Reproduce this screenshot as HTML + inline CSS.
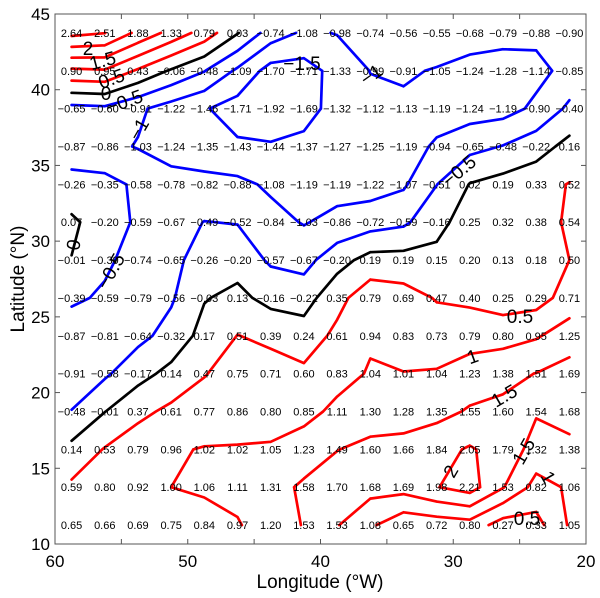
<!DOCTYPE html>
<html><head><meta charset="utf-8"><style>
body{margin:0;background:#fff;}
svg{display:block;font-family:"Liberation Sans",Arial,sans-serif;}
</style></head><body>
<svg id="chart" width="600" height="598"></svg>
<script>
const lats = [43.75,41.25,38.75,36.25,33.75,31.25,28.75,26.25,23.75,21.25,18.75,16.25,13.75,11.25];
const lons = [58.75,56.25,53.75,51.25,48.75,46.25,43.75,41.25,38.75,36.25,33.75,31.25,28.75,26.25,23.75,21.25];
const row0 = [2.64,2.51,1.88,1.33,0.79,0.03,-0.74,-1.08,-0.98,-0.74,-0.56,-0.55,-0.68,-0.79,-0.88,-0.90];
const row1 = [0.90,0.95,0.43,-0.06,-0.48,-1.09,-1.70,-1.71,-1.33,-0.99,-0.91,-1.05,-1.24,-1.28,-1.14,-0.85];
const row2 = [-0.65,-0.60,-0.91,-1.22,-1.46,-1.71,-1.92,-1.69,-1.32,-1.12,-1.13,-1.19,-1.24,-1.19,-0.90,-0.40];
const row3 = [-0.87,-0.86,-1.03,-1.24,-1.35,-1.43,-1.44,-1.37,-1.27,-1.25,-1.19,-0.94,-0.65,-0.48,-0.22,0.16];
const row4 = [-0.26,-0.35,-0.58,-0.78,-0.82,-0.88,-1.08,-1.19,-1.19,-1.22,-1.07,-0.51,0.02,0.19,0.33,0.52];
const row5 = [0.07,-0.20,-0.59,-0.67,-0.49,-0.52,-0.84,-1.03,-0.86,-0.72,-0.59,-0.16,0.25,0.32,0.38,0.54];
const row6 = [-0.01,-0.39,-0.74,-0.65,-0.26,-0.20,-0.57,-0.67,-0.20,0.19,0.19,0.15,0.20,0.13,0.18,0.50];
const row7 = [-0.39,-0.59,-0.79,-0.56,-0.03,0.13,-0.16,-0.22,0.35,0.79,0.69,0.47,0.40,0.25,0.29,0.71];
const row8 = [-0.87,-0.81,-0.64,-0.32,0.17,0.51,0.39,0.24,0.61,0.94,0.83,0.73,0.79,0.80,0.95,1.25];
const row9 = [-0.91,-0.58,-0.17,0.14,0.47,0.75,0.71,0.60,0.83,1.04,1.01,1.04,1.23,1.38,1.51,1.69];
const row10 = [-0.48,-0.01,0.37,0.61,0.77,0.86,0.80,0.85,1.11,1.30,1.28,1.35,1.55,1.60,1.54,1.68];
const row11 = [0.14,0.53,0.79,0.96,1.02,1.02,1.05,1.23,1.49,1.60,1.66,1.84,2.05,1.79,1.32,1.38];
const row12 = [0.59,0.80,0.92,1.00,1.06,1.11,1.31,1.58,1.70,1.68,1.69,1.98,2.21,1.53,0.82,1.06];
const row13 = [0.65,0.66,0.69,0.75,0.84,0.97,1.20,1.53,1.53,1.08,0.65,0.72,0.80,0.27,0.33,1.05];
const levels = [-1.5,-1,-0.5,0,0.5,1,1.5,2,2.5];
const xTicks = [60,55,50,45,40,35,30,25,20];
const xTickLabels = ["60","","50","","40","","30","","20"];
const yTicks = [10,15,20,25,30,35,40,45];
const yTickLabels = ["10","15","20","25","30","35","40","45"];

const grid = [row0,row1,row2,row3,row4,row5,row6,row7,row8,row9,row10,row11,row12,row13];
const NS="http://www.w3.org/2000/svg";
const svg=document.getElementById('chart');
const L=55,R=586,T=14,B=544;
const xS=lon=>L+(60-lon)*(R-L)/40;
const yS=lat=>T+(45-lat)*(B-T)/35;
function mk(tag,attrs,parent){const e=document.createElementNS(NS,tag);for(const k in attrs)e.setAttribute(k,attrs[k]);(parent||svg).appendChild(e);return e;}

const cg=mk('g',{});


levels.forEach(lv=>{
  const col=lv<0?'#0000ff':(lv===0?'#000000':'#ff0000');
  let d='';
  for(let i=0;i<grid.length-1;i++)for(let j=0;j<lons.length-1;j++){
    const a=grid[i][j],b=grid[i][j+1],c=grid[i+1][j+1],dd=grid[i+1][j];
    const P=(v1,v2,x1,y1,x2,y2)=>{const t=(lv-v1)/(v2-v1);return [xS(x1+(x2-x1)*t),yS(y1+(y2-y1)*t)];};
    const up=v=>v>=lv;
    const e={};
    if(up(a)!==up(b))e.t=P(a,b,lons[j],lats[i],lons[j+1],lats[i]);
    if(up(b)!==up(c))e.r=P(b,c,lons[j+1],lats[i],lons[j+1],lats[i+1]);
    if(up(dd)!==up(c))e.b=P(dd,c,lons[j],lats[i+1],lons[j+1],lats[i+1]);
    if(up(a)!==up(dd))e.l=P(a,dd,lons[j],lats[i],lons[j],lats[i+1]);
    const ks=Object.keys(e);
    const seg=(p,q)=>{d+=`M${p[0].toFixed(1)},${p[1].toFixed(1)}L${q[0].toFixed(1)},${q[1].toFixed(1)}`;};
    if(ks.length===2)seg(e[ks[0]],e[ks[1]]);
    else if(ks.length===4){
      const cen=(a+b+c+dd)/4;
      if(up(cen)===up(a)){seg(e.t,e.r);seg(e.b,e.l);}else{seg(e.t,e.l);seg(e.r,e.b);}
    }
  }
  const p=mk('path',{d:d,stroke:col,'stroke-width':2.7,fill:'none','stroke-linecap':'round','stroke-linejoin':'round'},cg);
  
  
});

const clabels=[["2",88,50,0],["1.5",103,62,-15],["0.5",112,80,-20],["0",106,95,0],["−0.5",125,103,-20],["−1",140,130,-60],["−1.5",302,65,0],["−1",372,76,-35],["−0.5",460,172,-40],["0",75,245,-80],["−0.5",112,272,-60],["0.5",520,318,0],["1",473,358,-20],["1.5",505,397,-30],["2",452,472,-60],["1.5",525,452,-60],["1",547,478,60],["0.5",527,520,0]];
const lg=mk('g',{});


clabels.forEach(c=>{
  const t=mk('text',{x:c[1],y:c[2],'font-size':19,'text-anchor':'middle','dominant-baseline':'middle',transform:`rotate(${c[3]} ${c[1]} ${c[2]})`},lg);
  t.textContent=c[0];
  
  
});

const vg=mk('g',{});


grid.forEach((row,i)=>row.forEach((v,j)=>{
  const t=mk('text',{x:xS(lons[j]),y:yS(lats[i])+4,'font-size':11,'text-anchor':'middle',fill:'#000'},vg);
  t.textContent=(v<0?'\u2212':'')+Math.abs(v).toFixed(2);
  
  
}));

const fr=mk('rect',{x:L,y:T,width:R-L,height:B-T,fill:'none',stroke:'#555','stroke-width':1});


xTicks.forEach((v,k)=>{
  const x=xS(v);
  const t1=mk('line',{x1:x,y1:B,x2:x,y2:B-5,stroke:'#555'});
  
  
  const t2=mk('line',{x1:x,y1:T,x2:x,y2:T+5,stroke:'#555'});
  
  
  if(xTickLabels[k]){
    const tl=mk('text',{x:x,y:B+23,'font-size':17,'text-anchor':'middle'});
    tl.textContent=xTickLabels[k];
    
    
  }
});
yTicks.forEach((v,k)=>{
  const y=yS(v);
  const t1=mk('line',{x1:L,y1:y,x2:L+5,y2:y,stroke:'#555'});
  
  
  const t2=mk('line',{x1:R,y1:y,x2:R-5,y2:y,stroke:'#555'});
  
  
  const tl=mk('text',{x:L-5,y:y+6,'font-size':17,'text-anchor':'end'});
  tl.textContent=yTickLabels[k];
  
  
});
const xt=mk('text',{x:320,y:588,'font-size':19,'text-anchor':'middle'});
xt.textContent='Longitude (°W)';


const yt=mk('text',{x:0,y:0,'font-size':19,'text-anchor':'middle',transform:'translate(19,279) rotate(-90)','dominant-baseline':'middle'});
yt.textContent='Latitude (°N)';


</script>
</body></html>
